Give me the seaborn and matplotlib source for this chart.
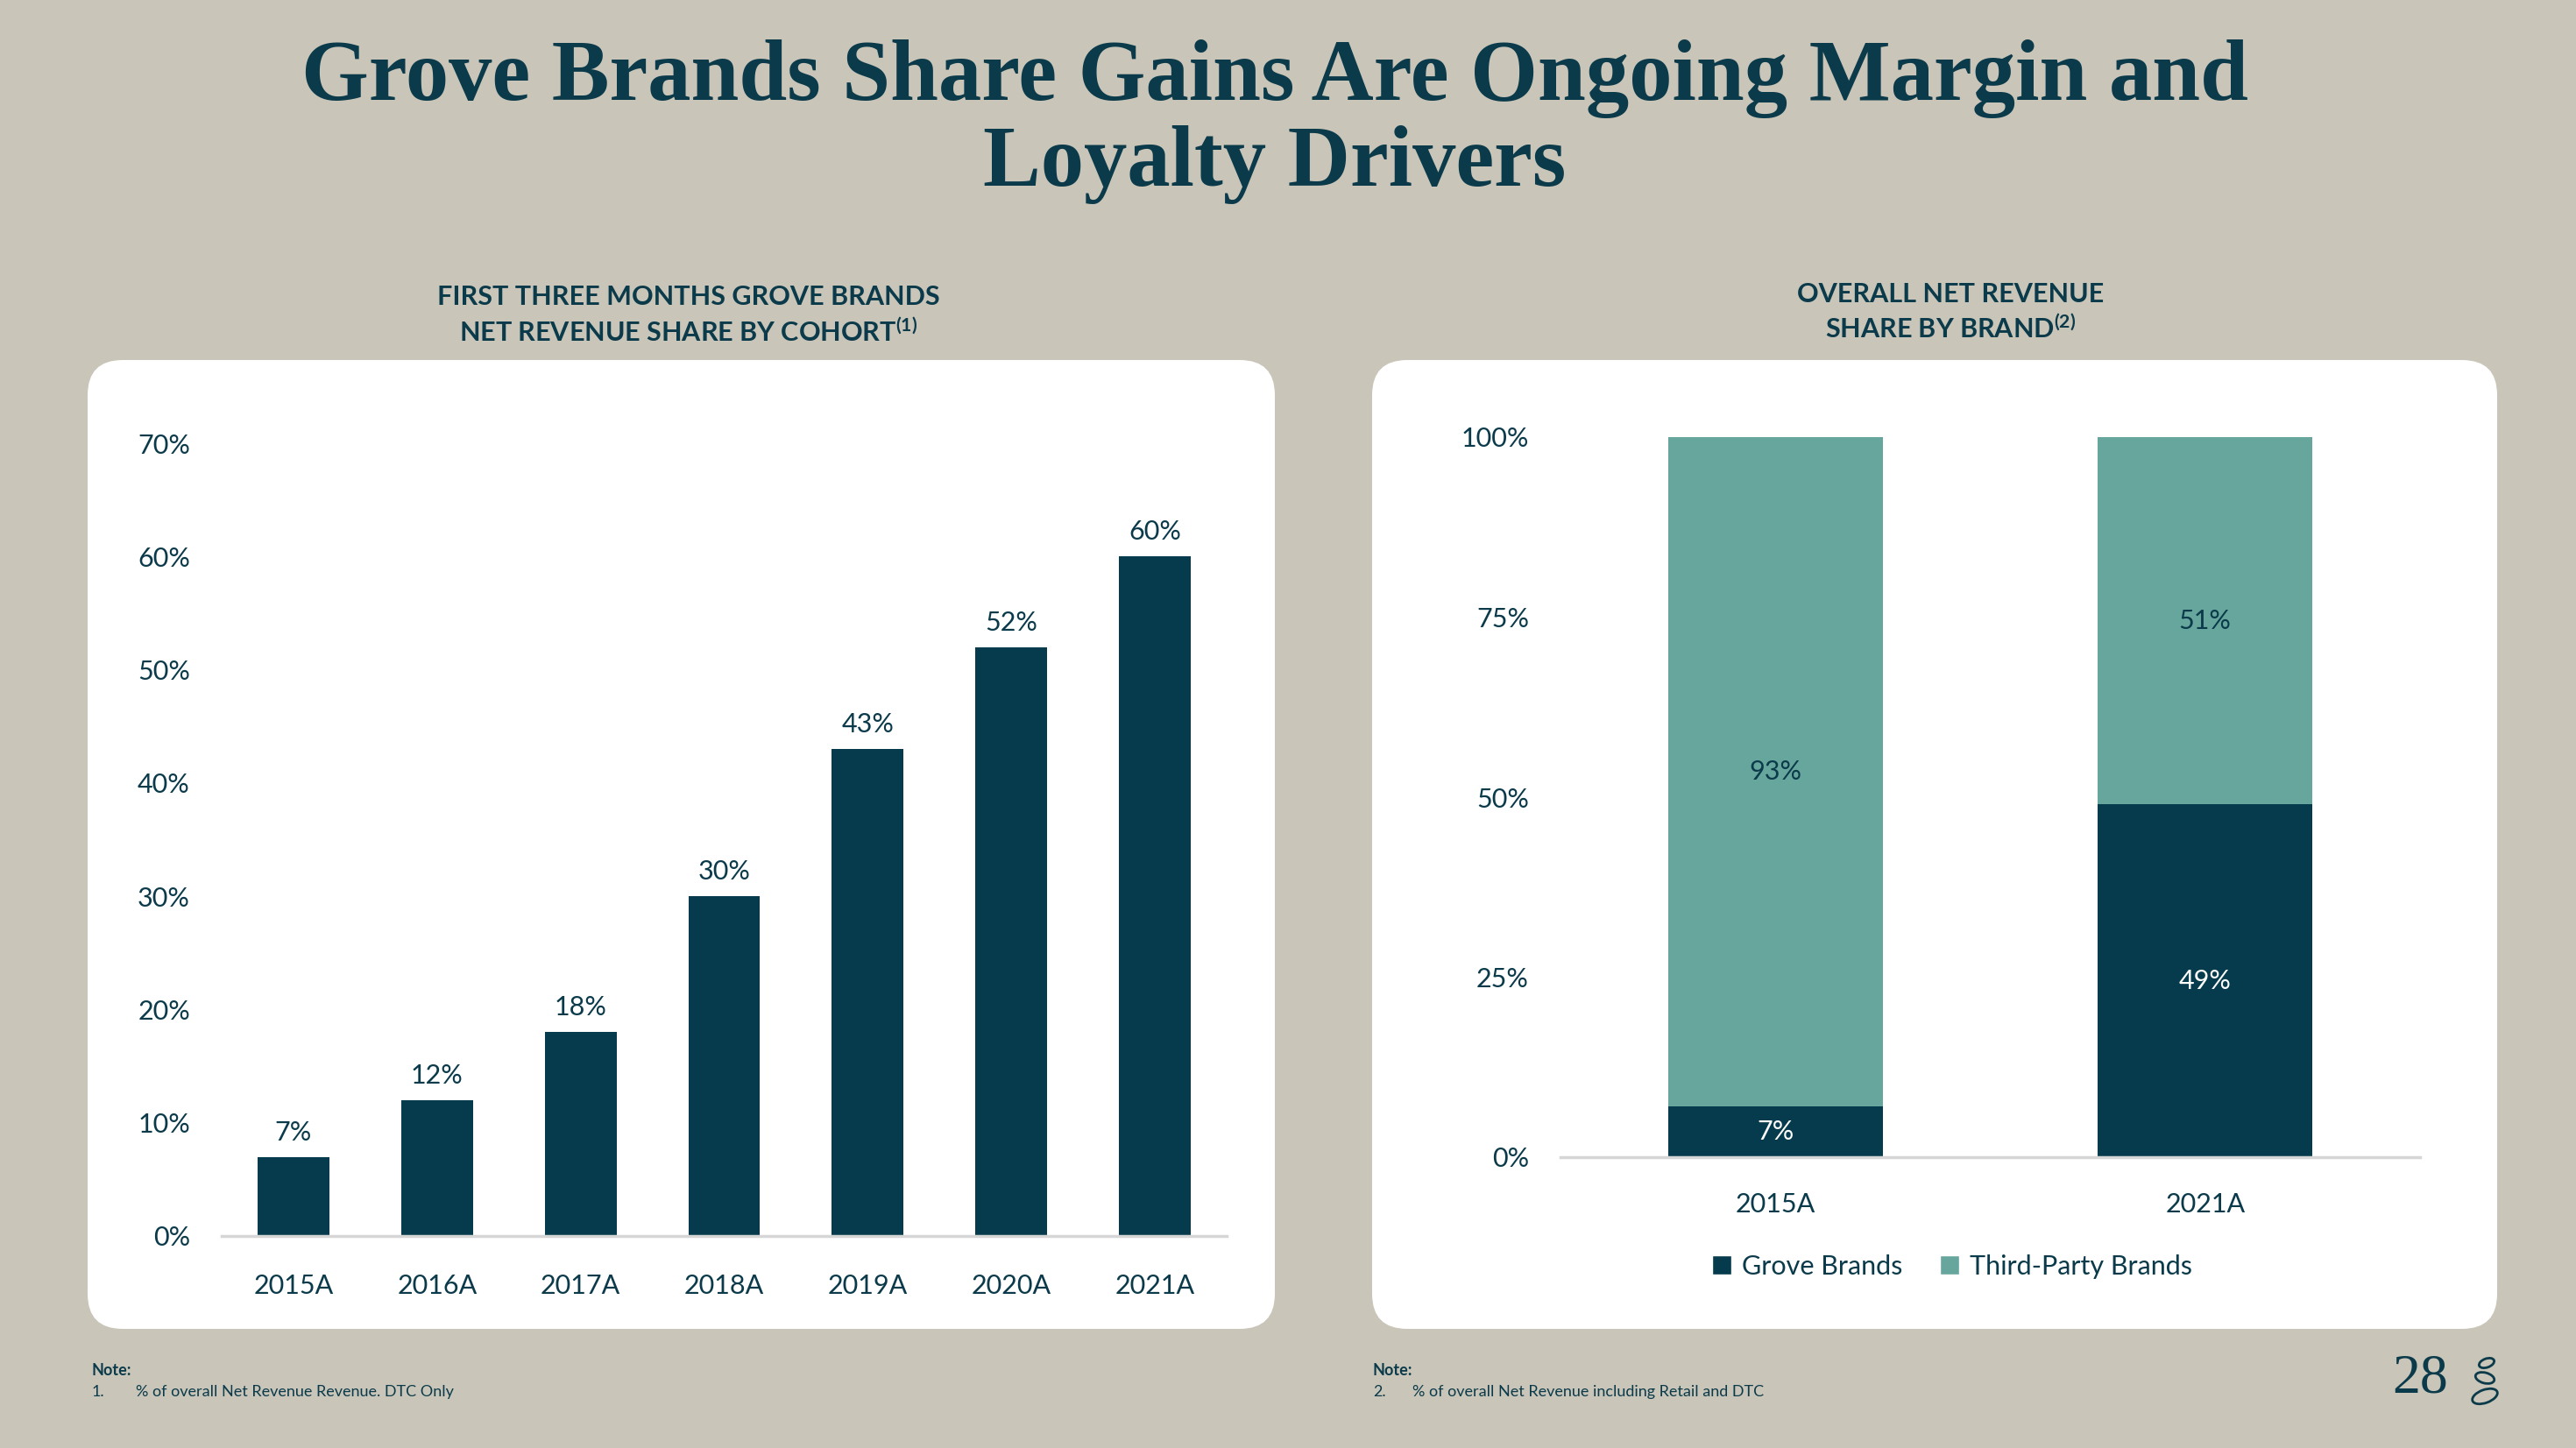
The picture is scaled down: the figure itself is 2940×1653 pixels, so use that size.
import matplotlib
matplotlib.use("Agg")
import matplotlib.pyplot as plt
from matplotlib.patches import FancyBboxPatch, Patch, Ellipse
import seaborn as sns
import pandas as pd

###############
# data
###############
cohort_years = ["2015A", "2016A", "2017A", "2018A", "2019A", "2020A", "2021A"]
cohort_share = [7, 12, 18, 30, 43, 52, 60]

brand_years = ["2015A", "2021A"]
grove_share = [7, 49]
third_party_share = [93, 51]

left_yticks = [0, 10, 20, 30, 40, 50, 60, 70]
right_yticks = [0, 25, 50, 75, 100]

###############
# style
###############
NAVY = "#053B4C"
TEAL = "#67A69C"
TXT = "#0B3A4A"
BG = "#C9C5B8"
BASE = "#D6D6D6"

sns.set_theme(style="white")
plt.rcParams["font.family"] = ["Lato", "DejaVu Sans"]
plt.rcParams["mathtext.fontset"] = "custom"
plt.rcParams["mathtext.rm"] = "Lato:bold"
plt.rcParams["mathtext.it"] = "Lato:bold"

W, H = 29.4, 16.53
fig = plt.figure(figsize=(W, H), dpi=100, facecolor=BG)


def px(x, y):
    # full-size pixel -> inches (figure from bottom)
    return x / 100, (1653 - y) / 100


# white cards (behind the axes)
for x0, x1 in [(100, 1455), (1566, 2850)]:
    lx, ty = px(x0, 411)
    rx, by = px(x1, 1517)
    card = FancyBboxPatch((lx + 0.4, by + 0.4), rx - lx - 0.8, ty - by - 0.8,
                          boxstyle="round,pad=0.4", transform=fig.dpi_scale_trans,
                          facecolor="white", edgecolor="none", zorder=-5)
    fig.patches.append(card)

# title
fig.text(1455 / 2940, 1 - 90 / 1653, "Grove Brands Share Gains Are Ongoing Margin and",
         ha="center", va="center", fontsize=71, fontweight="bold",
         family="Liberation Serif", color=TXT)
fig.text(1455 / 2940, 1 - 188 / 1653, "Loyalty Drivers",
         ha="center", va="center", fontsize=71, fontweight="bold",
         family="Liberation Serif", color=TXT)

# panel subtitles
fig.text(786 / 2940, 1 - 339 / 1653, "FIRST THREE MONTHS GROVE BRANDS",
         ha="center", va="center", fontsize=22, fontweight="bold", color=TXT)
fig.text(786 / 2940, 1 - 379 / 1653, r"NET REVENUE SHARE BY COHORT$^{(1)}$",
         ha="center", va="center", fontsize=22, fontweight="bold", color=TXT)
fig.text(2226 / 2940, 1 - 336 / 1653, "OVERALL NET REVENUE",
         ha="center", va="center", fontsize=22, fontweight="bold", color=TXT)
fig.text(2226 / 2940, 1 - 375 / 1653, r"SHARE BY BRAND$^{(2)}$",
         ha="center", va="center", fontsize=22, fontweight="bold", color=TXT)


def style_axis(ax):
    ax.set_facecolor("none")
    for s in ["top", "right", "left"]:
        ax.spines[s].set_visible(False)
    ax.spines["bottom"].set_color(BASE)
    ax.spines["bottom"].set_linewidth(2.5)
    ax.set_xlabel("")
    ax.set_ylabel("")
    ax.tick_params(axis="both", length=0, labelsize=22, labelcolor=TXT)


#######################
# left chart
#######################
df_cohort = pd.DataFrame({"year": cohort_years, "share": cohort_share})
ax1 = fig.add_axes([253 / 2940, 1 - 1411 / 1653, (1400 - 253) / 2940, (1411 - 506) / 1653])
sns.barplot(data=df_cohort, x="year", y="share", color=NAVY, width=0.5,
            saturation=1, linewidth=0, ax=ax1)
ax1.set_ylim(0, 70)
ax1.set_xlim(-0.5, 6.5)
ax1.set_yticks(left_yticks)
ax1.set_yticklabels([f"{v}%" for v in left_yticks])
style_axis(ax1)
ax1.tick_params(axis="y", pad=26)
ax1.tick_params(axis="x", pad=31)
ax1.bar_label(ax1.containers[0], labels=[f"{v}%" for v in cohort_share],
              padding=10, fontsize=22, color=TXT)

#######################
# right chart
#######################
df_brand = pd.DataFrame({"year": brand_years, "grove": grove_share,
                         "third": third_party_share})
df_brand["total"] = df_brand["grove"] + df_brand["third"]
ax2 = fig.add_axes([1781 / 2940, 1 - 1321 / 1653, (2762 - 1781) / 2940, (1321 - 499) / 1653])
sns.barplot(data=df_brand, x="year", y="total", color=TEAL, width=0.5,
            saturation=1, linewidth=0, ax=ax2)
sns.barplot(data=df_brand, x="year", y="grove", color=NAVY, width=0.5,
            saturation=1, linewidth=0, ax=ax2)
ax2.set_ylim(0, 100)
ax2.set_xlim(-0.5, 1.5)
ax2.set_yticks(right_yticks)
ax2.set_yticklabels([f"{v}%" for v in right_yticks])
style_axis(ax2)
ax2.tick_params(axis="y", pad=26)
ax2.tick_params(axis="x", pad=29)

for i, row in df_brand.iterrows():
    ax2.text(i, row["grove"] / 2, f"{row['grove']}%", ha="center", va="center",
             fontsize=22, color="white")
    ax2.text(i, row["grove"] + row["third"] / 2, f"{row['third']}%", ha="center",
             va="center", fontsize=22, color=TXT)

handles = [Patch(facecolor=NAVY, label="Grove Brands"),
           Patch(facecolor=TEAL, label="Third-Party Brands")]
fig.legend(handles=handles, loc="center", bbox_to_anchor=(2228 / 2940, 1 - 1446 / 1653),
           ncol=2, frameon=False, fontsize=22, handlelength=0.72, handleheight=0.72,
           handletextpad=0.4, columnspacing=1.4, labelcolor=TXT)

#######################
# footnotes
#######################
fig.text(105 / 2940, 1 - 1565 / 1653, "Note:", fontsize=13, fontweight="bold",
         color=TXT, va="center")
fig.text(105 / 2940, 1 - 1589 / 1653, "1.", fontsize=13, color=TXT, va="center")
fig.text(155 / 2940, 1 - 1589 / 1653, "% of overall Net Revenue Revenue. DTC Only",
         fontsize=13, color=TXT, va="center")
fig.text(1567 / 2940, 1 - 1565 / 1653, "Note:", fontsize=13, fontweight="bold",
         color=TXT, va="center")
fig.text(1567 / 2940, 1 - 1589 / 1653, "2.", fontsize=13, color=TXT, va="center")
fig.text(1612 / 2940, 1 - 1589 / 1653, "% of overall Net Revenue including Retail and DTC",
         fontsize=13, color=TXT, va="center")

# page number + little logo
fig.text(2762 / 2940, 1 - 1574 / 1653, "28", fontsize=46, family="Liberation Serif",
         color=TXT, ha="center", va="center")
for (cx, cy, w, h, ang) in [(2838, 1556, 18, 10, 20), (2836, 1573, 22, 12, -15),
                            (2836, 1594, 30, 15, 20)]:
    lx, ly = px(cx, cy)
    fig.patches.append(Ellipse((lx, ly), w / 100, h / 100, angle=ang,
                               transform=fig.dpi_scale_trans, facecolor="none",
                               edgecolor=TXT, linewidth=2))

plt.savefig("out.png", dpi=100, facecolor=BG)
plt.close()
